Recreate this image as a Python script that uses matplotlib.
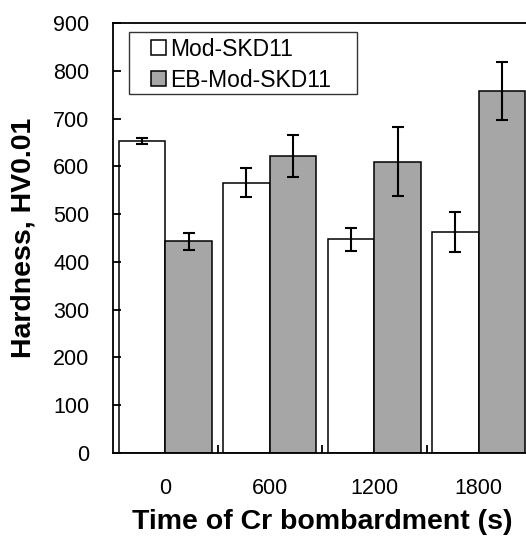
import matplotlib
matplotlib.use("Agg")
import matplotlib.pyplot as plt
from matplotlib.patches import Rectangle
import numpy as np

times = ["0", "600", "1200", "1800"]
mod_skd11 = [653, 566, 447, 462]
mod_skd11_err = [6, 30, 24, 42]
eb_mod_skd11 = [443, 622, 610, 758]
eb_mod_skd11_err = [18, 44, 72, 61]

plt.rcParams["font.family"] = ["Liberation Sans", "DejaVu Sans"]

W, H = 526, 536
fig = plt.figure(figsize=(W / 100, H / 100), dpi=100)
# axes right spine sits just past the image edge in the reference
ax = fig.add_axes([113 / W, 1 - 453 / H, (531 - 113) / W, (453 - 23) / H])

x = np.arange(len(times))
w = 0.445
ekw = dict(elinewidth=1.5, capthick=1.5)
ax.bar(x - w / 2, mod_skd11, w, yerr=mod_skd11_err, capsize=4,
       color="white", edgecolor="black", linewidth=1.1, error_kw=ekw,
       label="Mod-SKD11")
ax.bar(x + w / 2, eb_mod_skd11, w, yerr=eb_mod_skd11_err, capsize=4,
       color="#a6a6a6", edgecolor="black", linewidth=1.1, error_kw=ekw,
       label="EB-Mod-SKD11")

ax.set_xlim(-0.5, 3.5)
ax.set_ylim(0, 900)
ax.set_yticks(range(0, 901, 100))
ax.set_xticks(x)
ax.set_xticklabels(times)
ax.set_xticks(np.arange(0.5, 3.0, 1.0), minor=True)
ax.tick_params(axis="x", which="major", length=0, pad=18, labelsize=15.5)
ax.tick_params(axis="x", which="minor", direction="in", length=6, width=1.3)
ax.tick_params(axis="y", direction="in", length=6, width=1.3, labelsize=15.5, pad=17)
for s in ax.spines.values():
    s.set_linewidth(1.3)

ax.set_ylabel("Hardness, HV0.01", fontsize=20.5, fontweight="bold", labelpad=12)
ax.set_xlabel("Time of Cr bombardment (s)", fontsize=20.5, fontweight="bold", labelpad=7)

# legend frame drawn separately (wide side padding as in reference)
ax.add_patch(Rectangle((0.0383, 0.835), 0.5454, 0.144, transform=ax.transAxes,
                       facecolor="white", edgecolor="#333333", linewidth=1.0, zorder=5))
leg = ax.legend(loc="upper left", bbox_to_anchor=(0.09, 0.966), fontsize=16.5,
                frameon=False, handlelength=0.65, handleheight=0.65,
                handletextpad=0.2, borderpad=0, borderaxespad=0, labelspacing=0.35)
leg.set_zorder(6)

fig.savefig("out.png", dpi=100)
